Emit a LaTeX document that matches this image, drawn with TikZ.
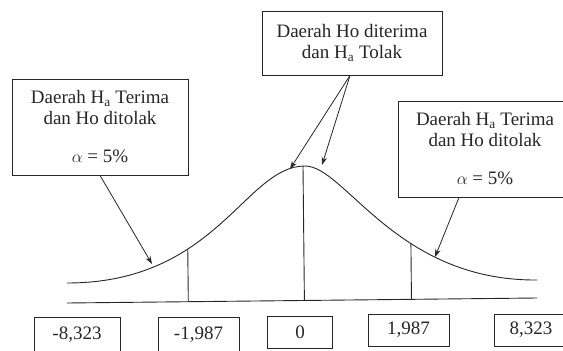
\documentclass[tikz,border=0pt]{standalone}
\usepackage{fontspec}
\setmainfont{Liberation Serif}
\usepackage{tikz}
\usetikzlibrary{arrows.meta, positioning, calc}

\begin{document}
\begin{tikzpicture}[x=1pt, y=-1pt, line width=0.9pt, color=black!85,
  box/.style={draw, align=center, inner sep=0pt, font=\fontsize{19}{21}\selectfont},
  numbox/.style={draw, inner sep=0pt, minimum height=32, font=\fontsize{19}{21}\selectfont},
  pointer/.style={line width=0.8pt, -{Stealth[length=8pt,width=5.5pt]}}]
\useasboundingbox (0,0) rectangle (563,351);
\clip (0,0) rectangle (563,351);
\node(top) [box, minimum width=180, minimum height=64] at (352,43) {Daerah Ho diterima\\dan H\textsubscript{a} Tolak};
\node(lbox) [box, minimum width=176, minimum height=96] at (100,127) {Daerah H\textsubscript{a} Terima\\dan Ho ditolak\\[17pt]$\alpha$ = 5\%};
\node(rbox) [box, minimum width=174, minimum height=96] at (485,149) {Daerah H\textsubscript{a} Terima\\dan Ho ditolak\\[17pt]$\alpha$ = 5\%};
\node(m8) [numbox, minimum width=86, minimum height=36] at (77,335) {-8,323};
\node(m2) [numbox, minimum width=81, minimum height=36] at (198.5,335) {-1,987};
\node(z0) [numbox, minimum width=65] at (300,332.5) {0};
\node(p2) [numbox, minimum width=81] at (408.5,330) {1,987};
\node(p8) [numbox, minimum width=74] at (531,330) {8,323};
% curve and axis
\draw (67,283) .. controls (217,283) and (245,166) .. (305,166) coordinate[pos=0.356] (tl)
  .. controls (345,166) and (396,281) .. (537,280) coordinate[pos=0.62] (tr);
\coordinate (bl) at (67,303);
\coordinate (br) at (537,298);
\draw (bl) -- (br);
\coordinate (tc) at (303,166);
\draw (tl) -- ($(bl)!(tl)!(br)$);
\draw (tc) -- ($(bl)!(tc)!(br)$);
\draw (tr) -- ($(bl)!(tr)!(br)$);
% arrows
\coordinate (al) at (152,264);
\coordinate (ac1) at (290,169);
\coordinate (ac2) at (322,165);
\coordinate (ar) at (435,257);
\draw[pointer] (lbox.south) -- (al);
\draw[pointer] ([xshift=-2]top.south) -- (ac1);
\draw[pointer] ([xshift=-2]top.south) -- (ac2);
\draw[pointer] ([xshift=-26]rbox.south) -- (ar);
\end{tikzpicture}
\end{document}
